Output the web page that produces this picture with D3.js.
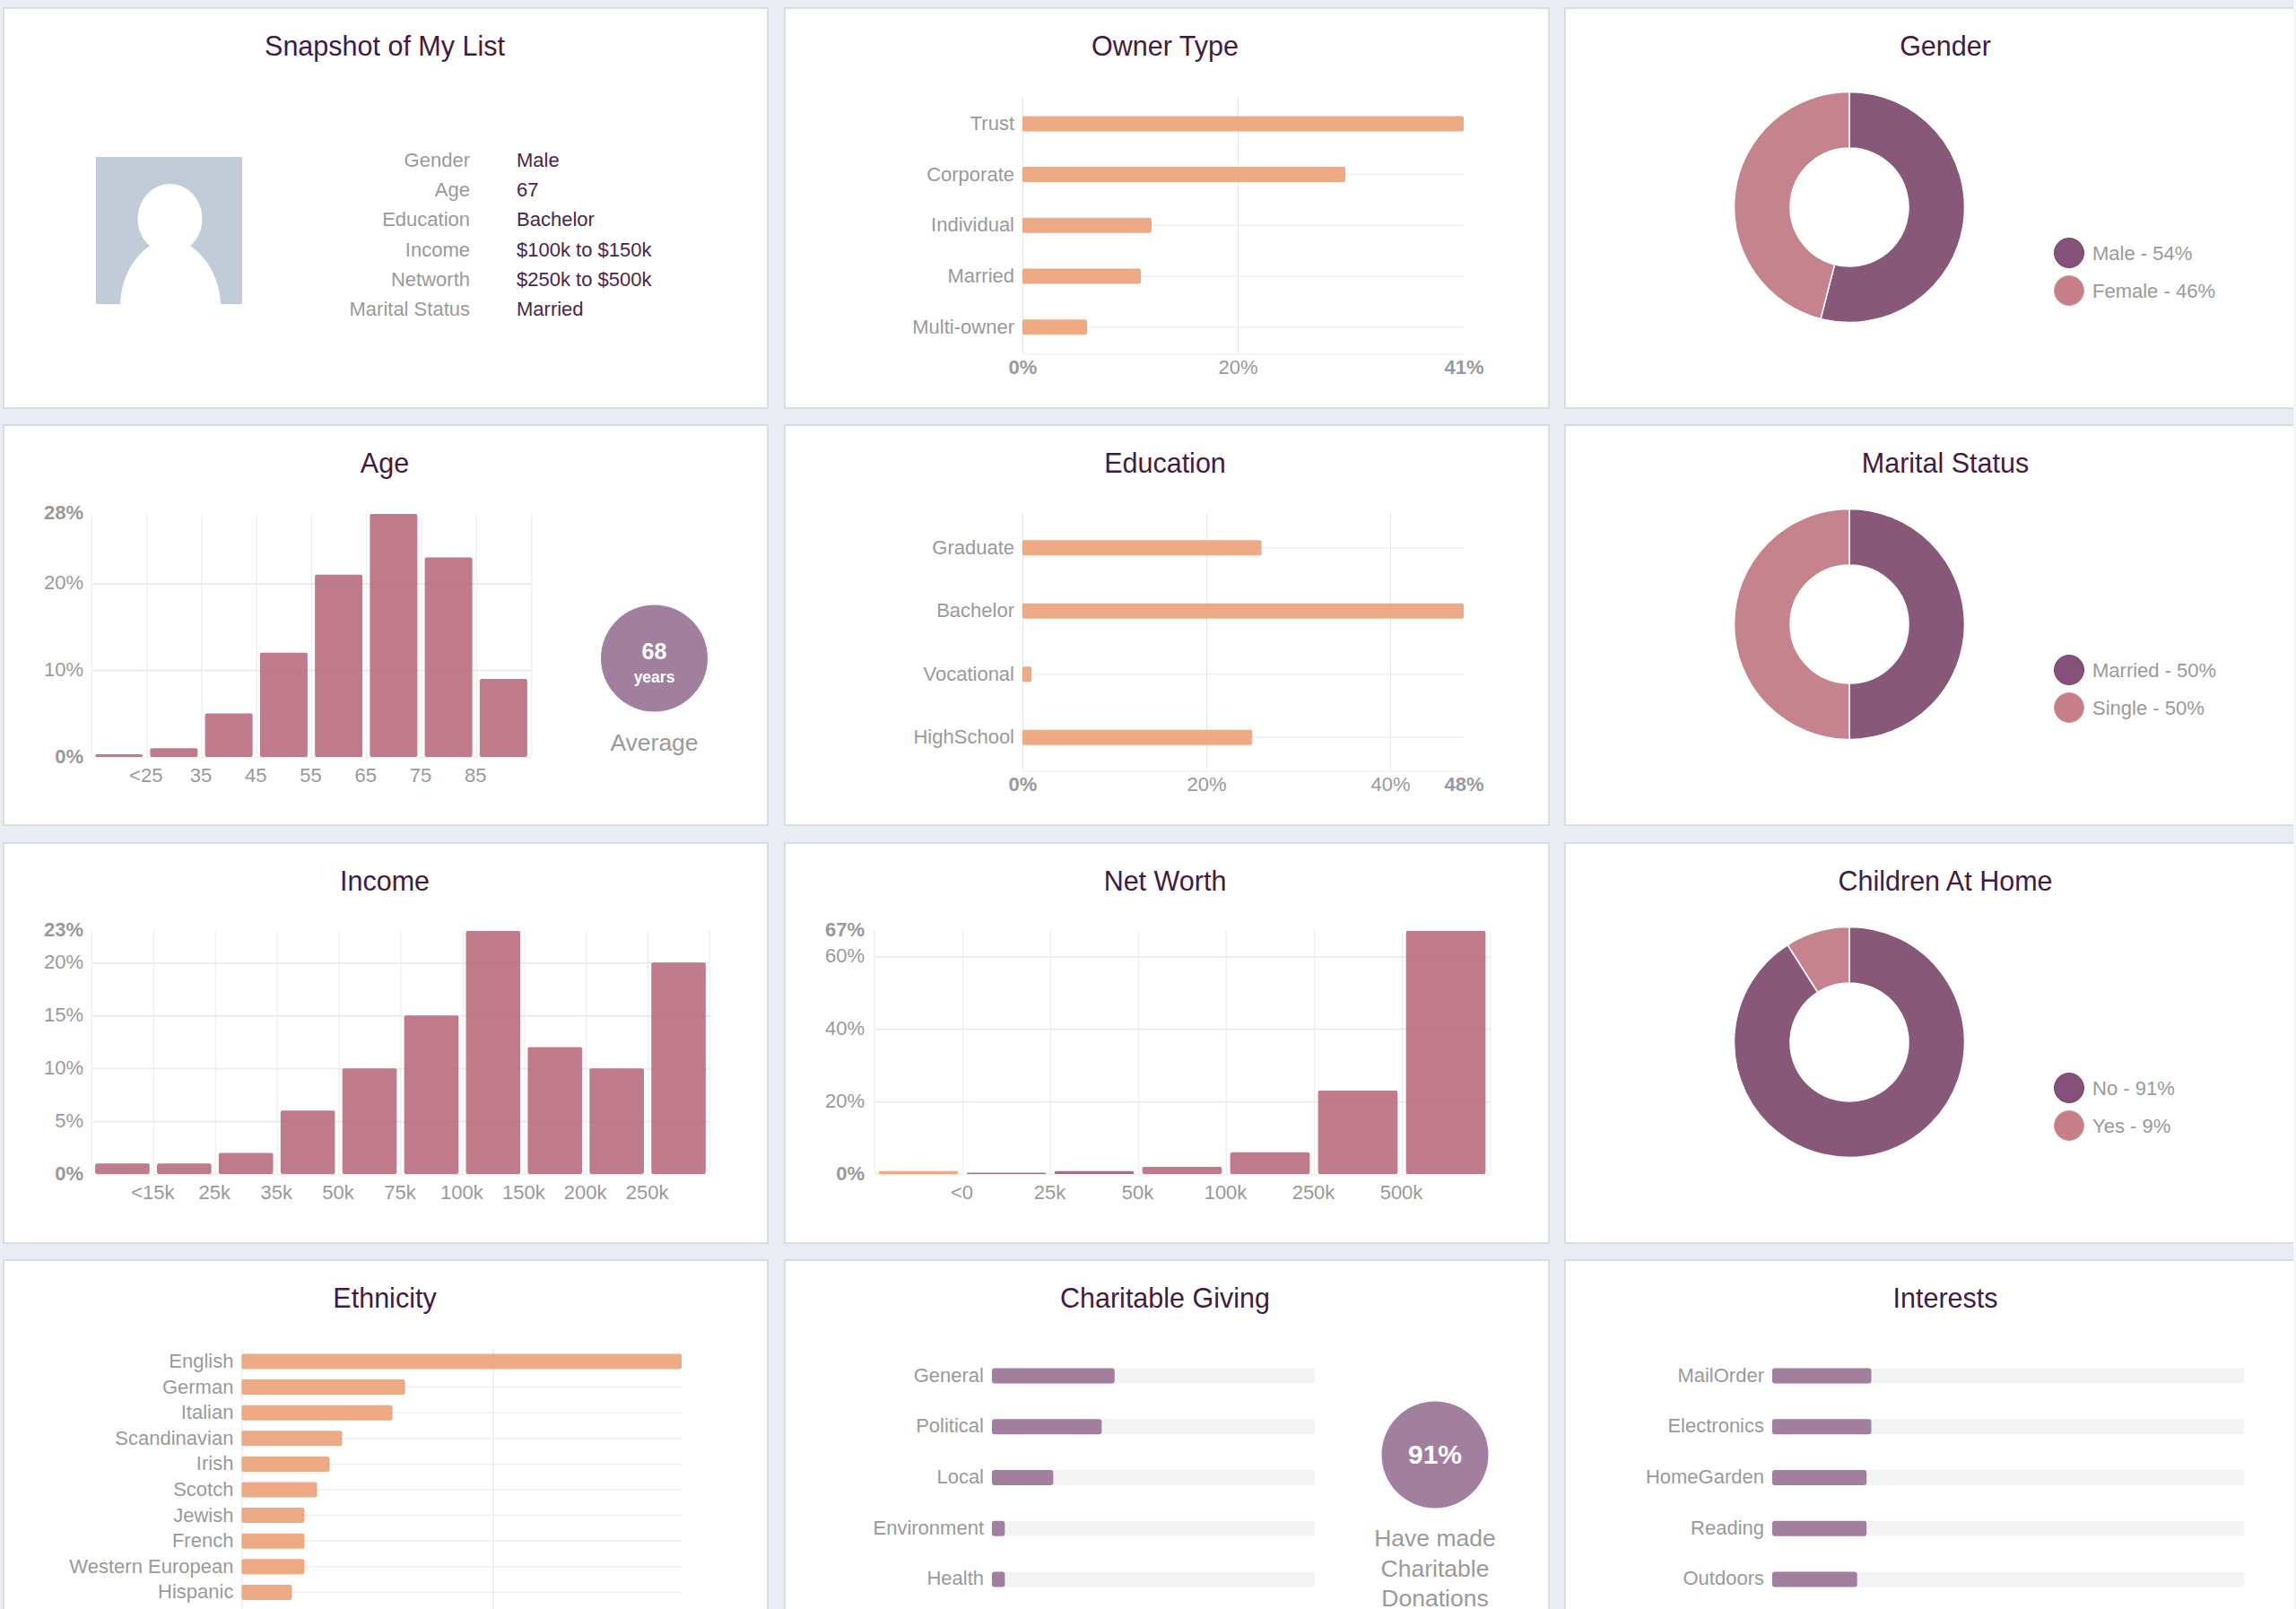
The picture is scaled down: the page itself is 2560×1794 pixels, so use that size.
<!DOCTYPE html>
<html>
<head>
<meta charset="utf-8">
<script src="https://cdn.jsdelivr.net/npm/d3@7/dist/d3.min.js"></script>
<style>
html,body{margin:0;padding:0;background:#e9edf3;overflow:hidden}
svg{display:block}
text{font-family:"Liberation Sans",Arial,sans-serif}
.domain{display:none}
</style>
</head>
<body>
<svg id="c" width="2560" height="1794"></svg>
<script>
// ---------- data ----------
const titles = ["Snapshot of My List","Owner Type","Gender","Age","Education","Marital Status","Income","Net Worth","Children At Home","Ethnicity","Charitable Giving","Interests"];
const snapshotLabels = ["Gender","Age","Education","Income","Networth","Marital Status"];
const snapshotValues = ["Male","67","Bachelor","$100k to $150k","$250k to $500k","Married"];

const ownerCats = ["Trust","Corporate","Individual","Married","Multi-owner"];
const ownerVals = [41,30,12,11,6];
const ownerTicks = [0,20,41];

const educationCats = ["Graduate","Bachelor","Vocational","HighSchool"];
const educationVals = [26,48,1,25];
const educationTicks = [0,20,40,48];

const genderCats = ["Male","Female"];
const genderVals = [54,46];
const maritalCats = ["Married","Single"];
const maritalVals = [50,50];
const childrenCats = ["No","Yes"];
const childrenVals = [91,9];

const ageTickLabels = ["<25","35","45","55","65","75","85"];
const ageVals = [0.3,1,5,12,21,28,23,9];
const ageYTicks = [0,10,20,28];

const incomeTickLabels = ["<15k","25k","35k","50k","75k","100k","150k","200k","250k"];
const incomeVals = [1,1,2,6,10,15,23,12,10,20];
const incomeYTicks = [0,5,10,15,20,23];

const worthTickLabels = ["<0","25k","50k","100k","250k","500k"];
const worthVals = [0.8,0.4,0.8,2,6,23,67];
const worthYTicks = [0,20,40,60,67];

const ethnicityCats = ["English","German","Italian","Scandinavian","Irish","Scotch","Jewish","French","Western European","Hispanic"];
const ethnicityVals = [35,13,12,8,7,6,5,5,5,4];

const givingCats = ["General","Political","Local","Environment","Health"];
const givingVals = [38,34,19,4,4];
const interestCats = ["MailOrder","Electronics","HomeGarden","Reading","Outdoors"];
const interestVals = [21,21,20,20,18];

const avgAge = 68;
const donatedPct = 91;

// ---------- style ----------
const INK="#431b40", GREY="#9a9a9a", VALUE="#4b2647", GRID="#ebebeb", GRIDV="#eeeeee";
const ORANGE="#eb9b70", ROSE="#b46378", PLUM="#a27f9e", DARK="#885878", LIGHT="#c4838d";
const BAR_OP=0.85, FONT=22;

const svg=d3.select("#c");
const colX=[4,875,1745], rowY=[9,474,940,1405], cardW=852, cardH=446;
const titleX=[429,1299,2169];

titles.forEach((t,i)=>{
  const c=i%3,r=Math.floor(i/3);
  svg.append("rect").attr("x",colX[c]).attr("y",rowY[r]).attr("width",cardW).attr("height",cardH)
    .attr("fill","#fff").attr("stroke","#d0d5dc").attr("stroke-width",1.5);
  svg.append("text").attr("x",titleX[c]).attr("y",rowY[r]+53).attr("text-anchor","middle")
    .attr("font-size",30.5).attr("fill",INK).text(t);
});
svg.append("rect").attr("x",2557).attr("y",0).attr("width",3).attr("height",1794).attr("fill","#f6f7f9");

function styleTicks(sel,boldSet){
  sel.selectAll("text").attr("font-size",FONT).attr("fill",GREY)
    .attr("font-family",'"Liberation Sans",Arial,sans-serif')
    .attr("font-weight",d=>boldSet&&boldSet.includes(d)?"bold":"normal");
}

// Horizontal bars with a value axis
function hbars(o){
  const g=svg.append("g");
  const x=d3.scaleLinear().domain([0,o.max]).range(o.xr);
  const n=o.cats.length, step=(o.yr[1]-o.yr[0])/n, p=1-17/step;
  const y=d3.scaleBand().domain(o.cats).range(o.yr).paddingInner(p).paddingOuter(p/2);
  const gb=o.gridBottom||o.yr[1];
  const xa=g.append("g").attr("transform",`translate(0,${gb})`)
    .call(d3.axisBottom(x).tickValues(o.ticks).tickSize(-(gb-o.gridTop)).tickFormat(o.showTicks?(d=>d+"%"):(()=>"")));
  xa.selectAll("line").attr("stroke",d=>d===o.max?"none":"#e6e6e6");
  styleTicks(xa,[0,o.max]);
  xa.selectAll("text").attr("y",o.tickY-gb).attr("dy",0);
  if(o.baseLine) g.append("line").attr("x1",o.xr[0]).attr("x2",o.xr[1]).attr("y1",gb).attr("y2",gb).attr("stroke","#f3f3f3").attr("stroke-width",1.5);
  const ya=g.append("g").attr("transform",`translate(${o.xr[0]},0)`)
    .call(d3.axisLeft(y).tickSize(-(o.xr[1]-o.xr[0])).tickPadding(9));
  ya.selectAll("line").attr("stroke","#efefef").attr("stroke-width",1.5);
  styleTicks(ya);
  ya.selectAll("text").attr("dy",7);
  g.selectAll("rect.b").data(o.vals).join("rect").attr("class","b")
    .attr("x",x(0)).attr("y",(d,i)=>y(o.cats[i])).attr("width",d=>x(d)-x(0)).attr("height",y.bandwidth())
    .attr("rx",2).attr("fill",ORANGE).attr("fill-opacity",BAR_OP);
}

// Vertical histogram with boundary labels
function vbars(o){
  const g=svg.append("g");
  const n=o.vals.length;
  const y=d3.scaleLinear().domain([0,o.max]).range(o.yr);
  const band=d3.scaleBand().domain(d3.range(n)).range(o.xr).paddingInner(o.pad).paddingOuter(o.pad/2);
  const edge=d3.scaleLinear().domain([0,n]).range(o.xr);
  const h=o.yr[0]-o.yr[1], w=o.xr[1]-o.xr[0];
  const xa=g.append("g").attr("transform",`translate(0,${o.yr[0]})`)
    .call(d3.axisBottom(edge).tickValues(d3.range(0,n+1)).tickSize(-h).tickFormat(i=>o.labels[i-1]||""));
  xa.selectAll("line").attr("stroke",GRIDV).attr("stroke-width",1.2);
  styleTicks(xa);
  xa.selectAll("text").attr("y",o.tickY-o.yr[0]).attr("dy",0).attr("x",-1);
  const ya=g.append("g").attr("transform",`translate(${o.xr[0]},0)`)
    .call(d3.axisLeft(y).tickValues(o.yTicks).tickSize(-w).tickPadding(o.yPad).tickFormat(d=>d+"%"));
  ya.selectAll("line").attr("stroke",d=>d===o.max?"none":GRID).attr("stroke-width",d=>d===0?1:1.8);
  styleTicks(ya,[0,o.max]);
  ya.selectAll("text").attr("dy",d=>d===o.max?5.5:6.5);
  g.selectAll("rect.b").data(o.vals).join("rect").attr("class","b")
    .attr("x",(d,i)=>band(i)).attr("y",d=>y(d)).attr("width",band.bandwidth()).attr("height",d=>y(0)-y(d))
    .attr("rx",2).attr("fill-opacity",BAR_OP)
    .attr("fill",(d,i)=>o.colorOf?o.colorOf(i):ROSE);
}

// Donut with legend
function donut(o){
  const g=svg.append("g").attr("transform",`translate(2062,${o.cy})`);
  const pie=d3.pie().sort(null)(o.vals);
  const arc=d3.arc().innerRadius(66).outerRadius(128.5);
  const col=d3.scaleOrdinal().domain(o.cats).range([DARK,LIGHT]);
  g.selectAll("path").data(pie).join("path").attr("d",arc)
    .attr("fill",(d,i)=>col(o.cats[i])).attr("stroke","#fff").attr("stroke-width",1.5);
  const lg=svg.append("g");
  const ly=d3.scalePoint().domain(o.cats).range([o.cy+51,o.cy+93]);
  lg.selectAll("circle").data(o.cats).join("circle")
    .attr("cx",2307).attr("cy",d=>ly(d)).attr("r",16.5)
    .attr("fill",(d,i)=>i===0?"#85517a":"#c67f88")
    .attr("stroke",(d,i)=>i===0?"#6f4668":"#d29aa2").attr("stroke-width",1);
  lg.selectAll("text").data(o.cats).join("text")
    .attr("x",2333).attr("y",d=>ly(d)+8).attr("font-size",FONT).attr("fill",GREY)
    .text((d,i)=>`${d} - ${o.vals[i]}%`);
}

// Progress bars on a grey track
function tracks(o){
  const g=svg.append("g");
  const x=d3.scaleLinear().domain([0,100]).range(o.xr);
  const step=(o.yr[1]-o.yr[0])/o.cats.length, p=1-17/step;
  const y=d3.scaleBand().domain(o.cats).range(o.yr).paddingInner(p).paddingOuter(p/2);
  g.selectAll("rect.t").data(o.cats).join("rect").attr("class","t")
    .attr("x",x(0)).attr("y",d=>y(d)).attr("width",x(100)-x(0)).attr("height",y.bandwidth())
    .attr("rx",3).attr("fill","#f3f3f4");
  g.selectAll("rect.b").data(o.vals).join("rect").attr("class","b")
    .attr("x",x(0)).attr("y",(d,i)=>y(o.cats[i])).attr("width",d=>x(d)-x(0)).attr("height",y.bandwidth())
    .attr("rx",3).attr("fill",PLUM);
  const ya=g.append("g").attr("transform",`translate(${o.xr[0]},0)`)
    .call(d3.axisLeft(y).tickSize(0).tickPadding(9));
  styleTicks(ya);
  ya.selectAll("text").attr("dy",6.5);
}

function callout(cx,cy){
  return svg.append("circle").attr("cx",cx).attr("cy",cy).attr("r",59.5).attr("fill",PLUM);
}
function label(x,y,t,size,fill,weight){
  svg.append("text").attr("x",x).attr("y",y).attr("text-anchor","middle").attr("font-size",size)
    .attr("fill",fill).attr("font-weight",weight||"normal").text(t);
}

// ---------- snapshot ----------
const av=svg.append("g").attr("transform","translate(107,175)");
av.append("rect").attr("width",163).attr("height",164).attr("fill","#c2ccd8");
av.append("ellipse").attr("cx",82.5).attr("cy",69).attr("rx",36).attr("ry",39).attr("fill","#fff");
av.append("path").attr("d","M27,164 C28,135 42,110 63,97 L102,97 C123,110 138,135 139,164 Z").attr("fill","#fff");
const sy=d3.scalePoint().domain(snapshotLabels).range([186,352]);
svg.append("g").selectAll("text").data(snapshotLabels).join("text")
  .attr("x",524).attr("y",d=>sy(d)).attr("text-anchor","end").attr("font-size",FONT).attr("fill",GREY).text(d=>d);
svg.append("g").selectAll("text").data(snapshotValues).join("text")
  .attr("x",576).attr("y",(d,i)=>sy(snapshotLabels[i])).attr("font-size",FONT).attr("fill",VALUE).text(d=>d);

// ---------- charts ----------
hbars({cats:ownerCats,vals:ownerVals,max:41,ticks:ownerTicks,xr:[1140,1632],yr:[109.6,393],gridTop:108,gridBottom:395,tickY:417,showTicks:true,baseLine:true});
hbars({cats:educationCats,vals:educationVals,max:48,ticks:educationTicks,xr:[1140,1632],yr:[575.5,857.5],gridTop:572,gridBottom:860,tickY:882,showTicks:true,baseLine:true});
hbars({cats:ethnicityCats,vals:ethnicityVals,max:35,ticks:[0,20],xr:[269.4,760],yr:[1503.7,1789.7],gridTop:1504,gridBottom:1800,tickY:1830,showTicks:false});

donut({cats:genderCats,vals:genderVals,cy:231});
donut({cats:maritalCats,vals:maritalVals,cy:696});
donut({cats:childrenCats,vals:childrenVals,cy:1162});

vbars({vals:ageVals,labels:ageTickLabels,max:28,yTicks:ageYTicks,xr:[102,592],yr:[844,573],pad:0.135,tickY:872,yPad:9});
vbars({vals:incomeVals,labels:incomeTickLabels,max:23,yTicks:incomeYTicks,xr:[102,791],yr:[1309,1038],pad:0.12,tickY:1337,yPad:9});
vbars({vals:worthVals,labels:worthTickLabels,max:67,yTicks:worthYTicks,xr:[975,1661],yr:[1309,1038],pad:0.095,tickY:1337,yPad:11,
  colorOf:i=>i===0?ORANGE:(i<3?"#8f5a78":ROSE)});

tracks({cats:givingCats,vals:givingVals,xr:[1106,1466],yr:[1505.7,1789.3]});
tracks({cats:interestCats,vals:interestVals,xr:[1976,2502],yr:[1505.7,1789.3]});

callout(729.5,734);
label(729.5,735,String(avgAge),25,"#fff","bold");
label(729.5,761,"years",17.5,"#fff","bold");
label(729.5,837,"Average",26.5,GREY);

callout(1600,1622);
label(1600,1632,donatedPct+"%",30,"#fff","bold");
label(1600,1724,"Have made",26.5,GREY);
label(1600,1758,"Charitable",26.5,GREY);
label(1600,1791,"Donations",26.5,GREY);
</script>
</body>
</html>
